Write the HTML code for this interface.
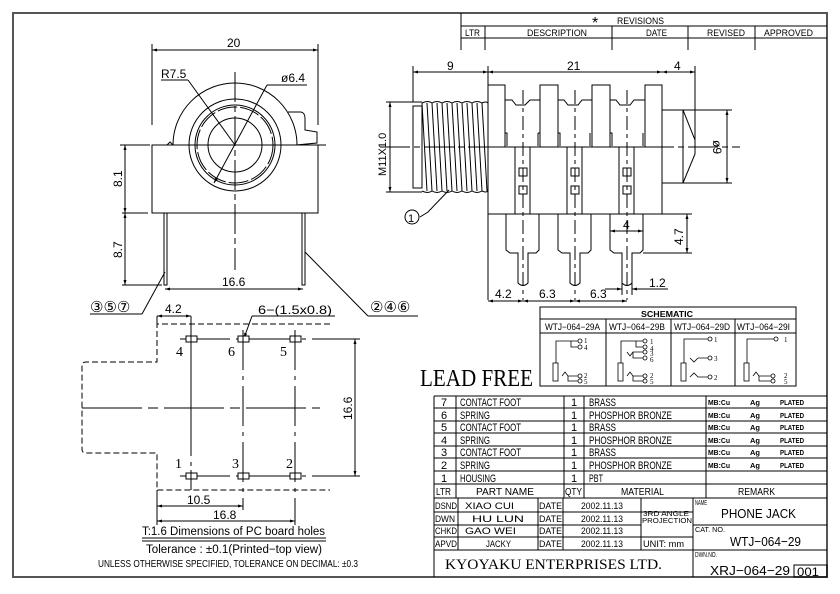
<!DOCTYPE html>
<html><head><meta charset="utf-8"><style>
html,body{margin:0;padding:0;background:#fff}
svg{display:block}
text{font-family:"Liberation Sans",sans-serif;fill:#000}
.s{font-family:"Liberation Serif",serif}
</style></head><body>
<svg width="840" height="594" viewBox="0 0 840 594" xmlns="http://www.w3.org/2000/svg" fill="none" stroke="#000" stroke-width="1">
<defs>
<marker id="a" viewBox="0 0 10 10" refX="10" refY="5" markerWidth="7" markerHeight="5" orient="auto-start-reverse"><path d="M0,2 L10,5 L0,8z" fill="#000" stroke="none"/></marker>
</defs>
<rect x="13" y="13" width="814" height="564" stroke="#555" stroke-width="2"/>
<g>
<line x1="461" y1="13" x2="461" y2="50"/>
<line x1="461" y1="26" x2="827" y2="26"/>
<line x1="461" y1="38" x2="827" y2="38"/>
<line x1="485" y1="26" x2="485" y2="50"/>
<line x1="612" y1="26" x2="612" y2="50"/>
<line x1="688" y1="26" x2="688" y2="50"/>
<line x1="755" y1="26" x2="755" y2="50"/>
</g>
<g font-size="9" stroke="none" lengthAdjust="spacingAndGlyphs">
<text x="592" y="28" font-size="16">*</text>
<text x="617" y="24" textLength="47" lengthAdjust="spacingAndGlyphs">REVISIONS</text>
<text x="465" y="36" textLength="15" lengthAdjust="spacingAndGlyphs">LTR</text>
<text x="527" y="36" textLength="60" lengthAdjust="spacingAndGlyphs">DESCRIPTION</text>
<text x="646" y="36" textLength="21" lengthAdjust="spacingAndGlyphs">DATE</text>
<text x="707" y="36" textLength="38" lengthAdjust="spacingAndGlyphs">REVISED</text>
<text x="764" y="36" textLength="49" lengthAdjust="spacingAndGlyphs">APPROVED</text>
</g>

<!-- FRONT VIEW -->
<g>
<line x1="152" y1="50" x2="318" y2="50" marker-start="url(#a)" marker-end="url(#a)"/>
<line x1="152" y1="44" x2="152" y2="125"/><line x1="318" y1="44" x2="318" y2="125"/>
<text x="227" y="47" font-size="12" stroke="none">20</text>
<path d="M173,145 A62,62 0 0 1 297,145"/>
<rect x="152" y="145" width="166" height="68"/>
<path d="M167,145 L170,142 L173,145"/>
<path d="M288,112 L301,112 Q305,113 305,118 L305,130 L317,132 L317,143 L296,145"/>
<circle cx="235" cy="145" r="46"/>
<circle cx="235" cy="145" r="40"/>
<circle cx="235" cy="145" r="38" stroke-dasharray="20 3"/>
<circle cx="235" cy="145" r="27"/>
<line x1="120" y1="145" x2="330" y2="145" stroke-dasharray="30 4 6 4"/>
<line x1="235" y1="72" x2="235" y2="270" stroke-dasharray="30 4 6 4"/>
<line x1="161" y1="80" x2="188" y2="80"/>
<line x1="188" y1="80" x2="235" y2="145"/>
<line x1="267" y1="85" x2="307" y2="85"/>
<line x1="267" y1="85" x2="214" y2="183" marker-end="url(#a)"/>
<text x="161" y="78" font-size="12" stroke="none">R7.5</text>
<text x="281" y="82" font-size="12" stroke="none">ø6.4</text>
<rect x="164" y="213" width="3" height="72"/>
<rect x="302" y="213" width="3" height="72"/>
<line x1="122" y1="145" x2="148" y2="145"/>
<line x1="122" y1="213" x2="148" y2="213"/>
<line x1="122" y1="285" x2="162" y2="285"/>
<line x1="125" y1="145" x2="125" y2="213" marker-start="url(#a)" marker-end="url(#a)"/>
<line x1="125" y1="213" x2="125" y2="285" marker-start="url(#a)" marker-end="url(#a)"/>
<text transform="translate(122,187) rotate(-90)" font-size="12" stroke="none">8.1</text>
<text transform="translate(122,258) rotate(-90)" font-size="12" stroke="none">8.7</text>
<line x1="165" y1="289" x2="303" y2="289" marker-start="url(#a)" marker-end="url(#a)"/>
<text x="222" y="286" font-size="12" stroke="none">16.6</text>
<line x1="165" y1="272" x2="142" y2="314"/>
<line x1="90" y1="314" x2="142" y2="314"/>
<line x1="305" y1="252" x2="368" y2="316"/>
<line x1="368" y1="316" x2="418" y2="316"/>
<text x="90" y="312" font-size="15" stroke="none">③⑤⑦</text>
<text x="370" y="312" font-size="15" stroke="none">②④⑥</text>
</g>

<!-- SIDE VIEW -->
<g>
<line x1="413" y1="72" x2="488" y2="72" marker-start="url(#a)" marker-end="url(#a)"/>
<line x1="488" y1="72" x2="662" y2="72" marker-start="url(#a)" marker-end="url(#a)"/>
<line x1="662" y1="72" x2="695" y2="72" marker-start="url(#a)" marker-end="url(#a)"/>
<text x="447" y="70" font-size="12" stroke="none">9</text>
<text x="567" y="70" font-size="12" stroke="none">21</text>
<text x="674" y="70" font-size="12" stroke="none">4</text>
<line x1="413" y1="66" x2="413" y2="102"/>
<line x1="488" y1="66" x2="488" y2="300"/>
<line x1="695" y1="66" x2="695" y2="145"/>
<line x1="386" y1="102" x2="422" y2="102"/>
<line x1="386" y1="192" x2="422" y2="192"/>
<line x1="390" y1="102" x2="390" y2="192" marker-start="url(#a)" marker-end="url(#a)"/>
<text transform="translate(386,176) rotate(-90)" font-size="11" stroke="none">M11X1.0</text>
<rect x="413" y="106" width="9" height="82"/>
<path d="M422,103 Q428,100 432,103 Q437,100 442,103 Q447,100 452,103 Q457,100 462,103 Q467,100 472,103 Q477,100 482,103 Q486,101 488,103"/>
<path d="M422,191 Q428,194 432,191 Q437,194 442,191 Q447,194 452,191 Q457,194 462,191 Q467,194 472,191 Q477,194 482,191 Q486,193 488,191"/>
<line x1="422" y1="103" x2="427" y2="191"/><line x1="427" y1="103" x2="432" y2="191"/>
<line x1="432" y1="103" x2="437" y2="191"/><line x1="437" y1="103" x2="442" y2="191"/>
<line x1="442" y1="103" x2="447" y2="191"/><line x1="447" y1="103" x2="452" y2="191"/>
<line x1="452" y1="103" x2="457" y2="191"/><line x1="457" y1="103" x2="462" y2="191"/>
<line x1="462" y1="103" x2="467" y2="191"/><line x1="467" y1="103" x2="472" y2="191"/>
<line x1="472" y1="103" x2="477" y2="191"/><line x1="477" y1="103" x2="482" y2="191"/>
<line x1="482" y1="103" x2="487" y2="191"/>
<line x1="380" y1="147" x2="740" y2="147" stroke-dasharray="30 4 6 4"/>
<path d="M449,190 L428,212 L420,217"/>
<circle cx="412" cy="217" r="7"/>
<text x="408" y="222" font-size="11" stroke="none">1</text>
<rect x="488" y="147" width="174" height="67"/>
<rect x="488" y="85" width="17" height="62"/>
<rect x="540" y="85" width="18" height="62"/>
<rect x="592" y="85" width="18" height="62"/>
<rect x="645" y="85" width="17" height="62"/>
<path d="M505,100 L512,100 L516,105 L525,105 L530,100 L540,100"/>
<path d="M558,100 L564,100 L568,105 L578,105 L582,100 L592,100"/>
<path d="M610,100 L616,100 L620,105 L630,105 L634,100 L645,100"/>
<path d="M505,133 L507,133 L507,146 M538,133 L540,133 M538,133 L538,146 M558,133 L560,133 L560,146 M590,133 L590,146 M610,133 L612,133 L612,146 M643,133 L643,146"/>
<line x1="515" y1="147" x2="515" y2="214"/><line x1="530" y1="147" x2="530" y2="214"/>
<line x1="567" y1="147" x2="567" y2="214"/><line x1="582" y1="147" x2="582" y2="214"/>
<line x1="619" y1="147" x2="619" y2="214"/><line x1="634" y1="147" x2="634" y2="214"/>
<rect x="519" y="168" width="8" height="8"/><rect x="519" y="186" width="8" height="8"/>
<rect x="571" y="168" width="8" height="8"/><rect x="571" y="186" width="8" height="8"/>
<rect x="623" y="168" width="8" height="8"/><rect x="623" y="186" width="8" height="8"/>
<path d="M662,110 L683,110 L695,140 L695,154 L683,183 L662,183"/>
<line x1="683" y1="110" x2="683" y2="183"/>
<line x1="683" y1="110" x2="732" y2="110"/><line x1="683" y1="183" x2="732" y2="183"/>
<line x1="727" y1="110" x2="727" y2="183" marker-start="url(#a)" marker-end="url(#a)"/>
<text transform="translate(713,140) rotate(90)" font-size="12" stroke="none">ø9</text>
<path d="M506,214 L506,250 L510,253 L518,253 L518,283 Q523,288 528,283 L528,253 L536,253 L539,250 L539,214"/>
<path d="M558,214 L558,250 L562,253 L570,253 L570,283 Q575,288 580,283 L580,253 L588,253 L591,250 L591,214"/>
<path d="M610,214 L610,250 L614,253 L622,253 L622,283 Q627,288 632,283 L632,253 L640,253 L643,250 L643,214"/>
<line x1="523" y1="90" x2="523" y2="300" stroke-dasharray="14 4 4 4"/>
<line x1="575" y1="90" x2="575" y2="300" stroke-dasharray="14 4 4 4"/>
<line x1="627" y1="90" x2="627" y2="300" stroke-dasharray="14 4 4 4"/>
<line x1="610" y1="231" x2="643" y2="231" marker-start="url(#a)" marker-end="url(#a)"/>
<text x="623" y="229" font-size="12" stroke="none">4</text>
<line x1="662" y1="214" x2="692" y2="214"/><line x1="643" y1="253" x2="692" y2="253"/>
<line x1="687" y1="214" x2="687" y2="253" marker-start="url(#a)" marker-end="url(#a)"/>
<text transform="translate(683,245) rotate(-90)" font-size="12" stroke="none">4.7</text>
<line x1="622" y1="283" x2="622" y2="295"/><line x1="632" y1="283" x2="632" y2="295"/>
<line x1="605" y1="289" x2="622" y2="289" marker-end="url(#a)"/>
<line x1="632" y1="289" x2="668" y2="289" marker-start="url(#a)"/>
<text x="649" y="287" font-size="12" stroke="none">1.2</text>
<line x1="488" y1="301" x2="523" y2="301" marker-start="url(#a)" marker-end="url(#a)"/>
<line x1="523" y1="301" x2="575" y2="301" marker-start="url(#a)" marker-end="url(#a)"/>
<line x1="575" y1="301" x2="627" y2="301" marker-start="url(#a)" marker-end="url(#a)"/>
<text x="495" y="298" font-size="12" stroke="none">4.2</text>
<text x="539" y="298" font-size="12" stroke="none">6.3</text>
<text x="590" y="298" font-size="12" stroke="none">6.3</text>
</g>

<!-- PCB VIEW -->
<g>
<path d="M330,324 L157,324 L157,362 L86,362 Q82,362 82,366 L82,449 Q82,453 86,453 L157,453 L157,490 L330,490" stroke-dasharray="6 3"/>
<line x1="157" y1="316" x2="157" y2="324"/>
<line x1="191" y1="316" x2="191" y2="456"/>
<line x1="157" y1="316" x2="191" y2="316" marker-start="url(#a)" marker-end="url(#a)"/>
<text x="165" y="313" font-size="12" stroke="none">4.2</text>
<text x="258" y="314" font-size="12" stroke="none" textLength="74" lengthAdjust="spacingAndGlyphs">6−(1.5x0.8)</text>
<line x1="252" y1="316" x2="335" y2="316"/>
<line x1="252" y1="316" x2="244" y2="338" marker-end="url(#a)"/>
<line x1="82" y1="408" x2="320" y2="408" stroke-dasharray="60 6 10 6"/>
<line x1="243" y1="330" x2="243" y2="510" stroke-dasharray="40 6 4 6"/>
<line x1="295" y1="330" x2="295" y2="525" stroke-dasharray="40 6 4 6"/>
<line x1="191" y1="360" x2="191" y2="490" stroke-dasharray="40 6 4 6"/>
<line x1="180" y1="339" x2="360" y2="339" stroke-dasharray="50 6 4 6"/>
<line x1="180" y1="476" x2="360" y2="476" stroke-dasharray="50 6 4 6"/>
<rect x="186" y="336" width="11" height="6" fill="#fff"/><line x1="191" y1="333" x2="191" y2="345"/>
<rect x="238" y="336" width="11" height="6" fill="#fff"/><line x1="243" y1="333" x2="243" y2="345"/>
<rect x="290" y="336" width="11" height="6" fill="#fff"/><line x1="295" y1="333" x2="295" y2="345"/>
<rect x="186" y="473" width="11" height="6" fill="#fff"/><line x1="191" y1="470" x2="191" y2="482"/>
<rect x="238" y="473" width="11" height="6" fill="#fff"/><line x1="243" y1="470" x2="243" y2="482"/>
<rect x="290" y="473" width="11" height="6" fill="#fff"/><line x1="295" y1="470" x2="295" y2="482"/>
<g font-size="14" stroke="none">
<text x="176" y="356" class="s">4</text><text x="228" y="356" class="s">6</text><text x="280" y="356" class="s">5</text>
<text x="175" y="468" class="s">1</text><text x="232" y="468" class="s">3</text><text x="286" y="468" class="s">2</text>
</g>
<line x1="355" y1="339" x2="355" y2="476" marker-start="url(#a)" marker-end="url(#a)"/>
<text transform="translate(352,420) rotate(-90)" font-size="12" stroke="none">16.6</text>
<line x1="157" y1="490" x2="157" y2="525"/>
<line x1="157" y1="506" x2="243" y2="506" marker-start="url(#a)" marker-end="url(#a)"/>
<line x1="157" y1="521" x2="295" y2="521" marker-start="url(#a)" marker-end="url(#a)"/>
<text x="187" y="504" font-size="12" stroke="none">10.5</text>
<text x="213" y="519" font-size="12" stroke="none">16.8</text>
<text x="142" y="535" font-size="11.5" stroke="none" textLength="183" lengthAdjust="spacingAndGlyphs">T:1.6 Dimensions of PC board holes</text>
<line x1="142" y1="538" x2="326" y2="538"/><line x1="142" y1="541" x2="326" y2="541"/>
<text x="146" y="553" font-size="11.5" stroke="none" textLength="176" lengthAdjust="spacingAndGlyphs">Tolerance : ±0.1(Printed−top view)</text>
<text x="98" y="567" font-size="10" stroke="none" textLength="260" lengthAdjust="spacingAndGlyphs">UNLESS OTHERWISE SPECIFIED, TOLERANCE ON DECIMAL: ±0.3</text>
</g>

<!-- SCHEMATIC -->
<g>
<rect x="540" y="307" width="256" height="79"/>
<line x1="540" y1="319" x2="796" y2="319"/>
<line x1="540" y1="333" x2="796" y2="333"/>
<line x1="606" y1="319" x2="606" y2="386"/>
<line x1="671" y1="319" x2="671" y2="386"/>
<line x1="735" y1="319" x2="735" y2="386"/>
<text x="641" y="317" font-size="8.5" stroke="none" font-weight="bold" textLength="52" lengthAdjust="spacingAndGlyphs">SCHEMATIC</text>
<g font-size="9" stroke="none">
<text x="545" y="330" textLength="55" lengthAdjust="spacingAndGlyphs">WTJ−064−29A</text><text x="609" y="330" textLength="56" lengthAdjust="spacingAndGlyphs">WTJ−064−29B</text>
<text x="674" y="330" textLength="56" lengthAdjust="spacingAndGlyphs">WTJ−064−29D</text><text x="737" y="330" textLength="53" lengthAdjust="spacingAndGlyphs">WTJ−064−29I</text>
</g>
<g stroke-width="0.8">
<rect x="553" y="363" width="5" height="18"/>
<path d="M556,363 L556,341 L578,341 M571,341 L571,347 L578,347 M562,376 L565,372 L568,376 L578,376 M568,376 L568,381 L578,381"/>
<circle cx="580" cy="341" r="2"/><circle cx="580" cy="347" r="2"/><circle cx="580" cy="376" r="2"/><circle cx="580" cy="381" r="2"/>
<rect x="618" y="363" width="5" height="18"/>
<path d="M621,363 L621,341 L643,341 M636,341 L636,347 L643,347 M627,352 L630,356 L633,352 L643,352 M633,352 L633,358 L643,358 M627,376 L630,372 L633,376 L643,376 M633,376 L633,381 L643,381"/>
<circle cx="645" cy="341" r="2"/><circle cx="645" cy="347" r="2"/><circle cx="645" cy="352" r="2"/><circle cx="645" cy="358" r="2"/><circle cx="645" cy="376" r="2"/><circle cx="645" cy="381" r="2"/>
<rect x="681" y="363" width="5" height="18"/>
<path d="M684,363 L684,339 L708,339 M690,358 L694,362 L698,358 L708,358 M690,377 L694,373 L698,377 L708,377"/>
<circle cx="710" cy="339" r="2"/><circle cx="710" cy="358" r="2"/><circle cx="710" cy="377" r="2"/>
<rect x="744" y="363" width="5" height="18"/>
<path d="M747,363 L747,339 L774,339 M753,376 L756,372 L759,376 L771,376 M759,376 L759,381 L771,381"/>
<circle cx="776" cy="339" r="2"/><circle cx="773" cy="376" r="2"/><circle cx="773" cy="381" r="2"/>
</g>
<g font-size="7" stroke="none">
<text x="584" y="343" class="s">1</text><text x="584" y="350" class="s">4</text><text x="584" y="378" class="s">2</text><text x="584" y="384" class="s">5</text>
<text x="650" y="344" class="s">1</text><text x="650" y="351" class="s">4</text><text x="650" y="356" class="s">3</text><text x="650" y="362" class="s">6</text><text x="650" y="378" class="s">2</text><text x="650" y="384" class="s">5</text>
<text x="714" y="342" class="s">1</text><text x="714" y="361" class="s">3</text><text x="714" y="380" class="s">2</text>
<text x="784" y="342" class="s">1</text><text x="784" y="378" class="s">2</text><text x="784" y="384" class="s">5</text>
</g>
</g>
<text x="420" y="386" font-size="24" stroke="none" class="s" textLength="113" lengthAdjust="spacingAndGlyphs">LEAD FREE</text>

<!-- PARTS TABLE -->
<g>
<line x1="434" y1="396" x2="827" y2="396"/>
<line x1="434" y1="408" x2="827" y2="408"/>
<line x1="434" y1="421" x2="827" y2="421"/>
<line x1="434" y1="433" x2="827" y2="433"/>
<line x1="434" y1="446" x2="827" y2="446"/>
<line x1="434" y1="458" x2="827" y2="458"/>
<line x1="434" y1="471" x2="827" y2="471"/>
<line x1="434" y1="484" x2="827" y2="484"/>
<line x1="434" y1="498" x2="827" y2="498"/>
<line x1="434" y1="396" x2="434" y2="577"/>
<line x1="456" y1="396" x2="456" y2="498"/>
<line x1="564" y1="396" x2="564" y2="498"/>
<line x1="584" y1="396" x2="584" y2="498"/>
<line x1="706" y1="396" x2="706" y2="498"/>
</g>
<g font-size="11" stroke="none">
<text x="441" y="406">7</text><text x="460" y="406" textLength="61" lengthAdjust="spacingAndGlyphs">CONTACT FOOT</text><text x="571" y="406">1</text><text x="589" y="406" textLength="27" lengthAdjust="spacingAndGlyphs">BRASS</text>
<text x="441" y="419">6</text><text x="460" y="419" textLength="30" lengthAdjust="spacingAndGlyphs">SPRING</text><text x="571" y="419">1</text><text x="589" y="419" textLength="83" lengthAdjust="spacingAndGlyphs">PHOSPHOR BRONZE</text>
<text x="441" y="431">5</text><text x="460" y="431" textLength="61" lengthAdjust="spacingAndGlyphs">CONTACT FOOT</text><text x="571" y="431">1</text><text x="589" y="431" textLength="27" lengthAdjust="spacingAndGlyphs">BRASS</text>
<text x="441" y="444">4</text><text x="460" y="444" textLength="30" lengthAdjust="spacingAndGlyphs">SPRING</text><text x="571" y="444">1</text><text x="589" y="444" textLength="83" lengthAdjust="spacingAndGlyphs">PHOSPHOR BRONZE</text>
<text x="441" y="456">3</text><text x="460" y="456" textLength="61" lengthAdjust="spacingAndGlyphs">CONTACT FOOT</text><text x="571" y="456">1</text><text x="589" y="456" textLength="27" lengthAdjust="spacingAndGlyphs">BRASS</text>
<text x="441" y="469">2</text><text x="460" y="469" textLength="30" lengthAdjust="spacingAndGlyphs">SPRING</text><text x="571" y="469">1</text><text x="589" y="469" textLength="83" lengthAdjust="spacingAndGlyphs">PHOSPHOR BRONZE</text>
<text x="441" y="482">1</text><text x="460" y="482" textLength="36" lengthAdjust="spacingAndGlyphs">HOUSING</text><text x="571" y="482">1</text><text x="589" y="482" textLength="14" lengthAdjust="spacingAndGlyphs">PBT</text>
<text x="436" y="495" font-size="10" textLength="15" lengthAdjust="spacingAndGlyphs">LTR</text>
<text x="476" y="495" font-size="10" textLength="58" lengthAdjust="spacingAndGlyphs">PART  NAME</text>
<text x="565" y="495" font-size="10" textLength="17" lengthAdjust="spacingAndGlyphs">QTY</text>
<text x="621" y="495" font-size="10" textLength="43" lengthAdjust="spacingAndGlyphs">MATERIAL</text>
<text x="738" y="495" font-size="10" textLength="37" lengthAdjust="spacingAndGlyphs">REMARK</text>
</g>
<g font-size="7.5" stroke="none" font-weight="bold">
<text x="708" y="405" textLength="22" lengthAdjust="spacingAndGlyphs">MB:Cu</text><text x="750" y="405">Ag</text><text x="780" y="405" textLength="24" lengthAdjust="spacingAndGlyphs">PLATED</text>
<text x="708" y="418" textLength="22" lengthAdjust="spacingAndGlyphs">MB:Cu</text><text x="750" y="418">Ag</text><text x="780" y="418" textLength="24" lengthAdjust="spacingAndGlyphs">PLATED</text>
<text x="708" y="430" textLength="22" lengthAdjust="spacingAndGlyphs">MB:Cu</text><text x="750" y="430">Ag</text><text x="780" y="430" textLength="24" lengthAdjust="spacingAndGlyphs">PLATED</text>
<text x="708" y="443" textLength="22" lengthAdjust="spacingAndGlyphs">MB:Cu</text><text x="750" y="443">Ag</text><text x="780" y="443" textLength="24" lengthAdjust="spacingAndGlyphs">PLATED</text>
<text x="708" y="455" textLength="22" lengthAdjust="spacingAndGlyphs">MB:Cu</text><text x="750" y="455">Ag</text><text x="780" y="455" textLength="24" lengthAdjust="spacingAndGlyphs">PLATED</text>
<text x="708" y="468" textLength="22" lengthAdjust="spacingAndGlyphs">MB:Cu</text><text x="750" y="468">Ag</text><text x="780" y="468" textLength="24" lengthAdjust="spacingAndGlyphs">PLATED</text>
</g>

<!-- TITLE BLOCK -->
<g>
<line x1="434" y1="512" x2="693" y2="512"/>
<line x1="434" y1="525" x2="641" y2="525"/>
<line x1="434" y1="537" x2="693" y2="537"/>
<line x1="434" y1="550" x2="827" y2="550"/>
<line x1="693" y1="525" x2="827" y2="525"/>
<line x1="458" y1="498" x2="458" y2="550"/>
<line x1="538" y1="498" x2="538" y2="550"/>
<line x1="563" y1="498" x2="563" y2="550"/>
<line x1="641" y1="498" x2="641" y2="550"/>
<line x1="693" y1="498" x2="693" y2="577"/>
<rect x="794" y="565" width="33" height="12"/>
</g>
<g font-size="9.5" stroke="none">
<text x="435" y="509" textLength="22" lengthAdjust="spacingAndGlyphs">DSND</text><text x="465" y="509" textLength="49" lengthAdjust="spacingAndGlyphs">XIAO   CUI</text><text x="539" y="509" textLength="23" lengthAdjust="spacingAndGlyphs">DATE</text><text x="581" y="509" textLength="42" lengthAdjust="spacingAndGlyphs">2002.11.13</text>
<text x="435" y="522" textLength="20" lengthAdjust="spacingAndGlyphs">DWN</text><text x="472" y="522" textLength="52" lengthAdjust="spacingAndGlyphs">HU      LUN</text><text x="539" y="522" textLength="23" lengthAdjust="spacingAndGlyphs">DATE</text><text x="581" y="522" textLength="42" lengthAdjust="spacingAndGlyphs">2002.11.13</text>
<text x="435" y="534" textLength="22" lengthAdjust="spacingAndGlyphs">CHKD</text><text x="465" y="534" textLength="51" lengthAdjust="spacingAndGlyphs">GAO    WEI</text><text x="539" y="534" textLength="23" lengthAdjust="spacingAndGlyphs">DATE</text><text x="581" y="534" textLength="42" lengthAdjust="spacingAndGlyphs">2002.11.13</text>
<text x="435" y="547" textLength="22" lengthAdjust="spacingAndGlyphs">APVD</text><text x="486" y="547" textLength="25" lengthAdjust="spacingAndGlyphs">JACKY</text><text x="539" y="547" textLength="23" lengthAdjust="spacingAndGlyphs">DATE</text><text x="581" y="547" textLength="42" lengthAdjust="spacingAndGlyphs">2002.11.13</text>
<text x="643" y="516" font-size="7.5" textLength="46" lengthAdjust="spacingAndGlyphs">3RD  ANGLE</text>
<text x="642" y="523" font-size="7.5" textLength="50" lengthAdjust="spacingAndGlyphs">PROJECTION</text>
<text x="643" y="547" textLength="41" lengthAdjust="spacingAndGlyphs">UNIT: mm</text>
<text x="695" y="505" font-size="7" textLength="12" lengthAdjust="spacingAndGlyphs">NAME</text>
<text x="721" y="518" font-size="13" textLength="75" lengthAdjust="spacingAndGlyphs">PHONE  JACK</text>
<text x="695" y="532" font-size="7" textLength="30" lengthAdjust="spacingAndGlyphs">CAT. NO.</text>
<text x="730" y="546" font-size="13" textLength="71" lengthAdjust="spacingAndGlyphs">WTJ−064−29</text>
<text x="695" y="557" font-size="7" textLength="22" lengthAdjust="spacingAndGlyphs">DWN.NO.</text>
<text x="710" y="575" font-size="13" textLength="80" lengthAdjust="spacingAndGlyphs">XRJ−064−29</text>
<text x="797" y="576" font-size="12" textLength="22" lengthAdjust="spacingAndGlyphs">001</text>
<text x="445" y="569" font-size="15" class="s" textLength="217" lengthAdjust="spacingAndGlyphs">KYOYAKU  ENTERPRISES  LTD.</text>
</g>
</svg>
</body></html>
